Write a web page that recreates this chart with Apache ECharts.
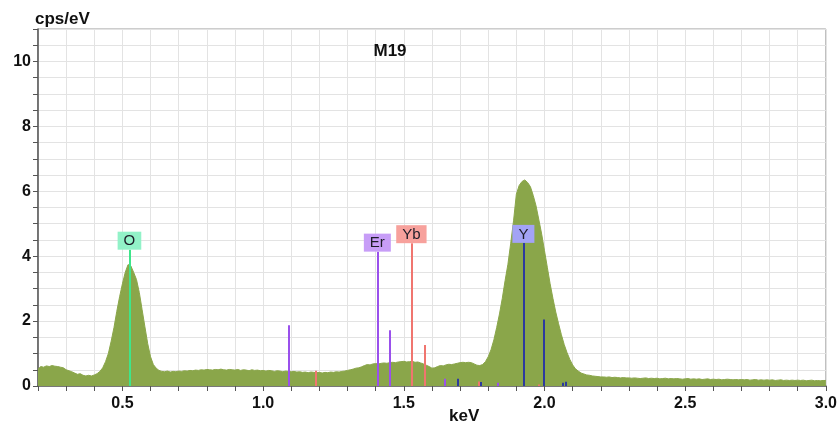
<!DOCTYPE html>
<html>
<head>
<meta charset="utf-8">
<script src="https://cdn.jsdelivr.net/npm/echarts@6/dist/echarts.min.js"></script>
<style>
  html, body { margin: 0; background: #fff; }
  #chart { width: 840px; height: 426px; }
</style>
</head>
<body>
<div id="chart"></div>
<script>
// spectrum channels: 0.20 .. 3.00 keV, 0.01 keV apart
const KEV_START = 0.2;
const KEV_STEP = 0.01;
const COUNTS = [
  0.52, 0.60, 0.58, 0.62, 0.60, 0.63, 0.61, 0.60, 0.58, 0.56,
  0.50, 0.47, 0.44, 0.40, 0.36, 0.38, 0.33, 0.31, 0.33, 0.31,
  0.34, 0.38, 0.45, 0.56, 0.75, 1.00, 1.38, 1.80, 2.30, 2.75,
  3.15, 3.50, 3.74, 3.70, 3.50, 3.28, 2.88, 2.35, 1.82, 1.30,
  0.90, 0.66, 0.55, 0.48, 0.45, 0.44, 0.46, 0.43, 0.45, 0.44,
  0.46, 0.45, 0.47, 0.46, 0.48, 0.47, 0.49, 0.48, 0.50, 0.49,
  0.51, 0.50, 0.49, 0.51, 0.50, 0.52, 0.50, 0.49, 0.51, 0.50,
  0.49, 0.51, 0.48, 0.50, 0.49, 0.47, 0.50, 0.48, 0.49, 0.47,
  0.48, 0.46, 0.48, 0.47, 0.45, 0.47, 0.46, 0.44, 0.46, 0.45,
  0.44, 0.45, 0.43, 0.44, 0.42, 0.43, 0.41, 0.43, 0.42, 0.41,
  0.42, 0.40, 0.42, 0.41, 0.43, 0.42, 0.44, 0.43, 0.45, 0.46,
  0.48, 0.50, 0.52, 0.55, 0.56, 0.59, 0.63, 0.66, 0.65, 0.68,
  0.69, 0.68, 0.70, 0.71, 0.70, 0.72, 0.73, 0.72, 0.74, 0.75,
  0.76, 0.74, 0.75, 0.76, 0.73, 0.74, 0.71, 0.68, 0.64, 0.60,
  0.55, 0.56, 0.60, 0.63, 0.62, 0.65, 0.67, 0.66, 0.68, 0.70,
  0.72, 0.73, 0.72, 0.73, 0.72, 0.68, 0.64, 0.63, 0.66, 0.75,
  0.90, 1.12, 1.42, 1.80, 2.22, 2.70, 3.25, 3.75, 4.40, 5.09,
  5.91, 6.18, 6.30, 6.35, 6.27, 6.14, 5.87, 5.55, 5.12, 4.68,
  4.17, 3.66, 3.15, 2.70, 2.28, 1.92, 1.58, 1.28, 1.03, 0.82,
  0.65, 0.53, 0.46, 0.40, 0.37, 0.34, 0.33, 0.31, 0.30, 0.29,
  0.28, 0.28, 0.27, 0.28, 0.26, 0.27, 0.26, 0.25, 0.26, 0.25,
  0.25, 0.24, 0.25, 0.24, 0.23, 0.24, 0.25, 0.23, 0.24, 0.23,
  0.24, 0.22, 0.23, 0.24, 0.22, 0.23, 0.22, 0.23, 0.22, 0.21,
  0.22, 0.23, 0.21, 0.22, 0.21, 0.22, 0.20, 0.21, 0.22, 0.20,
  0.21, 0.20, 0.21, 0.19, 0.20, 0.21, 0.20, 0.19, 0.20, 0.19,
  0.20, 0.19, 0.20, 0.18, 0.19, 0.20, 0.18, 0.19, 0.18, 0.19,
  0.18, 0.19, 0.17, 0.18, 0.19, 0.17, 0.18, 0.17, 0.18, 0.17,
  0.18, 0.17, 0.18, 0.16, 0.17, 0.18, 0.16, 0.17, 0.16, 0.17,
  0.17
];

// element marker lines (first line of each element carries the tag)
const ELEMENTS = ["O", "Er", "Yb", "Y"];
const LINE_ELEMENT = ["O", "Er", "Er", "Er", "Er", "Er", "Yb", "Yb", "Yb", "Yb", "Yb", "Y", "Y", "Y", "Y", "Y", "Y"];
const LINE_KEV     = [0.525, 1.406, 1.451, 1.090, 1.647, 1.833, 1.527, 1.576, 1.188, 1.768, 1.979, 1.925, 1.999, 1.690, 1.772, 2.065, 2.077];
const LINE_HEIGHT  = [4.20, 4.14, 1.72, 1.87, 0.22, 0.10, 4.40, 1.26, 0.47, 0.14, 0.05, 4.41, 2.05, 0.22, 0.12, 0.10, 0.13];
const LINE_TAGGED  = [true, true, false, false, false, false, true, false, false, false, false, true, false, false, false, false, false];

const LINE_COLOR = { O: "#3ee58a", Er: "#9a50ec", Yb: "#f0756f", Y: "#2c3a9e" };
const TAG_BG = { O: "#92f2c8", Er: "#c79df7", Yb: "#f7a19c", Y: "#a3a3f6" };

const FONT = "Arial, 'Liberation Sans', sans-serif";

const spectrum = COUNTS.map((v, i) => [+(KEV_START + i * KEV_STEP).toFixed(2), v]);

const markerSeries = ELEMENTS.map((el) => ({
  type: "line",
  name: el,
  data: [],
  z: 5,
  markLine: {
    silent: true,
    animation: false,
    symbol: ["none", "none"],
    precision: 3,
    lineStyle: { color: LINE_COLOR[el], width: 2, type: "solid" },
    emphasis: { disabled: true },
    data: LINE_KEV.map((kev, i) => ({ kev, i }))
      .filter(({ i }) => LINE_ELEMENT[i] === el)
      .map(({ kev, i }) => [
        { coord: [kev, 0] },
        {
          coord: [kev, LINE_HEIGHT[i]],
          label: LINE_TAGGED[i] ? {
            show: true,
            position: "end",
            distance: 0,
            formatter: el,
            color: "#1c1c28",
            fontFamily: FONT,
            fontSize: 15,
            backgroundColor: TAG_BG[el],
            padding: [2, 6, 1, 6]
          } : { show: false }
        }
      ])
  }
}));

const chart = echarts.init(document.getElementById("chart"), null, { renderer: "canvas" });
chart.setOption({
  animation: false,
  grid: {
    left: 38, right: 14, top: 29, bottom: 40,
    show: true, borderColor: "#9a9a9a", borderWidth: 1, backgroundColor: "transparent"
  },
  xAxis: {
    type: "value",
    min: 0.2,
    max: 3.0,
    interval: 0.1,
    axisLine: { lineStyle: { color: "#555", width: 1.5 } },
    axisTick: { show: true, length: 5, lineStyle: { color: "#555" } },
    splitLine: { show: true, lineStyle: { color: "#e3e3e3" } },
    axisLabel: {
      color: "#111",
      fontFamily: FONT,
      fontWeight: "bold",
      fontSize: 16,
      margin: 10,
      formatter: (v) => (Math.round(v * 10) % 5 === 0 ? v.toFixed(1) : "")
    }
  },
  yAxis: {
    type: "value",
    min: 0,
    max: 11,
    interval: 0.5,
    axisLine: { show: true, lineStyle: { color: "#555", width: 1.5 } },
    axisTick: { show: true, length: 5, lineStyle: { color: "#555" } },
    splitLine: { show: true, lineStyle: { color: "#e3e3e3" } },
    axisLabel: {
      color: "#111",
      fontFamily: FONT,
      fontWeight: "bold",
      fontSize: 16,
      margin: 7,
      formatter: (v) => (Math.round(v * 2) % 4 === 0 ? String(Math.round(v)) : "")
    }
  },
  graphic: [
    { type: "text", z: 100, left: 35, top: 11, style: { text: "cps/eV", font: `bold 17px ${FONT}`, fill: "#111" } },
    { type: "text", z: 100, left: 449, top: 408, style: { text: "keV", font: `bold 17px ${FONT}`, fill: "#111" } },
    { type: "text", z: 100, x: 390, y: 51, style: { text: "M19", font: `bold 17px ${FONT}`, fill: "#111", align: "center", verticalAlign: "middle" } }
  ],
  series: [
    {
      type: "line",
      name: "M19",
      data: spectrum,
      showSymbol: false,
      symbol: "none",
      silent: true,
      z: 2,
      lineStyle: { color: "#8aa64a", width: 1 },
      areaStyle: { color: "#8aa64a", opacity: 1 }
    },
    ...markerSeries
  ]
});
</script>
</body>
</html>
